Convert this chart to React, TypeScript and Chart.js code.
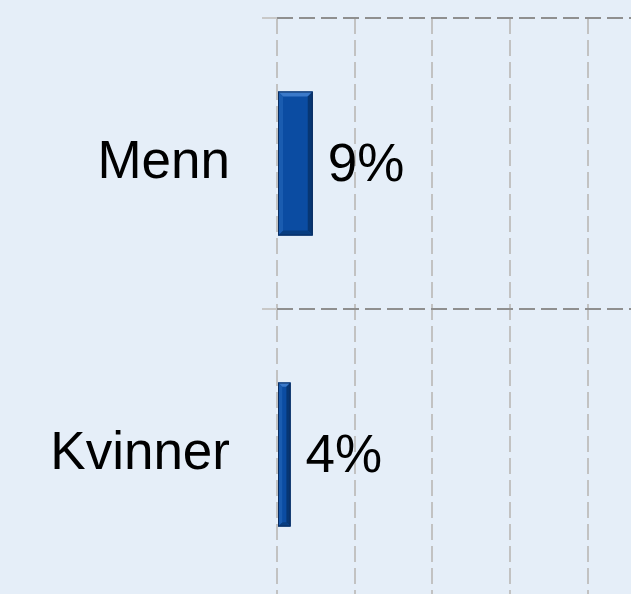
import React, { useEffect, useRef } from "react";
import { Chart, registerables } from "chart.js";

Chart.register(...registerables);

const categories = ["Menn", "Kvinner"];
const values = [9.2, 3.5];
const xTicks = [0, 20, 40, 60, 80, 100];

const CW = 680;
const CH = 620;
const FONT = "'Liberation Sans', Arial, sans-serif";

const bevelPlugin = {
  id: "bevel",
  afterDatasetsDraw(chart: any) {
    const ctx = chart.ctx;
    const meta = chart.getDatasetMeta(0);
    meta.data.forEach((el: any, i: number) => {
      const left = Math.min(el.base, el.x);
      const right = Math.max(el.base, el.x);
      const top = el.y - el.height / 2;
      const bottom = el.y + el.height / 2;
      const w = right - left;
      const b = Math.min(5, w / 3);
      ctx.save();
      ctx.fillStyle = "#3b79c9";
      ctx.beginPath();
      ctx.moveTo(left, top);
      ctx.lineTo(right, top);
      ctx.lineTo(right - b, top + b);
      ctx.lineTo(left + b, top + b);
      ctx.closePath();
      ctx.fill();
      ctx.fillStyle = "#073673";
      ctx.beginPath();
      ctx.moveTo(right, top);
      ctx.lineTo(right, bottom);
      ctx.lineTo(right - b, bottom - b);
      ctx.lineTo(right - b, top + b);
      ctx.closePath();
      ctx.fill();
      ctx.fillStyle = "#083d80";
      ctx.beginPath();
      ctx.moveTo(left, bottom);
      ctx.lineTo(right, bottom);
      ctx.lineTo(right - b, bottom - b);
      ctx.lineTo(left + b, bottom - b);
      ctx.closePath();
      ctx.fill();
      ctx.fillStyle = "#1a5cb0";
      ctx.beginPath();
      ctx.moveTo(left, top);
      ctx.lineTo(left + b, top + b);
      ctx.lineTo(left + b, bottom - b);
      ctx.lineTo(left, bottom);
      ctx.closePath();
      ctx.fill();
      ctx.strokeStyle = "#0a2c5e";
      ctx.lineWidth = 1;
      ctx.strokeRect(left + 0.5, top + 0.5, w - 1, el.height - 1);
      ctx.fillStyle = "#000000";
      ctx.font = `53px ${FONT}`;
      ctx.textAlign = "left";
      ctx.textBaseline = "middle";
      ctx.fillText(Math.round(values[i]) + "%", right + 15, el.y + 3);
      ctx.restore();
    });
  },
};

export default function App() {
  const ref = useRef<HTMLCanvasElement>(null);
  useEffect(() => {
    if (!ref.current) return;
    const chart = new Chart(ref.current, {
      type: "bar",
      data: {
        labels: categories,
        datasets: [
          {
            data: values,
            backgroundColor: "#0b4ca2",
            borderWidth: 0,
            categoryPercentage: 1,
            barPercentage: 0.495,
          },
        ],
      },
      options: {
        indexAxis: "y",
        responsive: false,
        animation: false,
        devicePixelRatio: 1,
        layout: { padding: { top: 18, bottom: CH - 600, left: 0, right: CW - 665.5 } },
        plugins: {
          legend: { display: false },
          tooltip: { enabled: false },
        },
        scales: {
          x: {
            min: xTicks[0],
            max: xTicks[xTicks.length - 1],
            afterBuildTicks: (scale: any) => {
              scale.ticks = xTicks.map((v) => ({ value: v }));
            },
            ticks: { display: false },
            grid: {
              color: "#c2c2c2",
              lineWidth: 2,
              drawTicks: false,
            },
            border: { display: false, dash: [16, 6] },
          },
          y: {
            afterFit: (scale: any) => {
              scale.width = 277;
              scale.paddingTop = 0;
              scale.paddingBottom = 0;
            },
            ticks: {
              color: "#000000",
              font: { family: FONT, size: 53 },
              padding: 32,
            },
            grid: {
              offset: true,
              color: "#8f8f8f",
              lineWidth: 2,
              tickLength: 15,
              tickColor: "#c8c8c8",
            },
            border: { display: false, dash: [16, 6] },
          },
        },
      },
      plugins: [bevelPlugin],
    });
    return () => chart.destroy();
  }, []);
  return (
    <div
      style={{
        position: "fixed",
        left: 0,
        top: 0,
        width: CW,
        height: CH,
        background: "#e5eef8",
        overflow: "hidden",
      }}
    >
      <canvas ref={ref} width={CW} height={CH} style={{ display: "block" }} />
    </div>
  );
}
